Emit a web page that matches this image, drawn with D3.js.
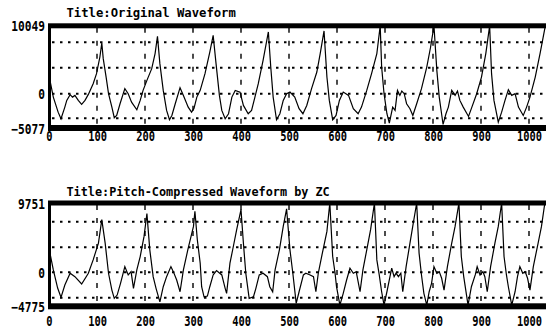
<!DOCTYPE html>
<html><head><meta charset="utf-8">
<script src="https://cdn.jsdelivr.net/npm/d3@7/dist/d3.min.js"></script>
<style>
html,body{margin:0;padding:0;background:#fff;}
svg{display:block;}
</style></head>
<body>
<svg id="chart" width="546" height="334"></svg>
<script>
// ---------- data ----------
const xTicks = [0,100,200,300,400,500,600,700,800,900,1000];

const origTitle = "Title:Original Waveform";
const origYTicks = [-5077, 0, 10049];
const origGrid = [-3650, 0, 3850, 7600];
const origX = [2,9,19,25,33,37,44,49,54,61,68,75,82,92,99,106,110,113,119,124,131,136,141,148,158,165,172,183,190,196,204,214,221,226,231,238,245,251,256,263,273,280,290,297,302,308,315,325,335,342,348,355,360,367,374,381,388,398,405,415,422,429,436,446,457,462,467,474,481,488,495,502,512,521,529,537,547,558,565,573,579,584,591,598,605,613,624,634,644,651,662,672,683,690,693,698,704,709,716,721,726,731,735,740,745,752,758,766,776,787,795,802,808,813,821,827,832,839,846,851,856,863,874,881,891,901,910,918,922,927,936,943,950,957,964,971,978,988,995,1002,1013,1023,1034];
const origY = [1970,-500,-2729,-3708,-1987,-994,-148,-504,-252,-994,-1587,-994,-104,1483,2966,5428,7504,5190,2462,0,-1987,-3559,-3218,-1483,742,0,-1246,-2373,-994,489,1972,3708,5932,8497,4449,489,-2477,-3856,-3218,-1483,890,-252,-1987,-2729,-2180,-504,489,2966,6169,8646,4449,-252,-2477,-3708,-2966,-504,489,237,-1735,-2966,-2477,-504,1483,4938,9135,3945,-504,-3856,-2966,-994,0,237,-504,-2225,-2966,-1735,742,3203,5932,9284,2462,-994,-3856,-3218,-994,237,-252,-2225,-2966,-1987,489,2966,5932,10049,3945,0,-2966,-4360,-1987,-2477,489,-252,386,0,-1483,-2225,-3218,-1483,742,3945,6911,10049,3455,-504,-4553,-2966,-1987,489,-252,386,-994,-1987,-3366,-1987,0,2462,5932,10049,2966,-994,-4212,-2729,-994,593,-252,0,-1987,-3218,-1987,-504,2462,5932,10049];

const compTitle = "Title:Pitch-Compressed Waveform by ZC";
const compYTicks = [-4775, 0, 9751];
const compGrid = [-3560, 0, 3520, 7120];
const compX = [2,9,18,25,33,44,54,68,82,92,103,110,117,124,131,136,142,149,158,165,171,176,183,190,198,204,210,217,223,231,238,245,254,259,266,273,280,290,301,304,309,315,318,323,330,335,342,349,360,367,370,377,384,391,400,405,410,417,426,431,438,446,455,460,466,471,480,488,495,502,508,515,521,530,535,544,551,556,561,568,579,585,591,596,599,606,613,620,627,634,640,644,648,654,662,670,678,683,688,693,698,704,709,714,719,723,728,733,737,744,752,759,766,771,776,781,787,792,797,802,808,813,818,823,830,839,846,854,859,864,873,880,888,892,898,904,908,913,920,929,936,943,948,953,957,964,971,976,981,987,992,997,1002,1009,1019,1026,1033];
const compY = [2700,340,-2206,-3521,-1782,-127,-608,-1640,-127,1753,4115,7409,4115,-127,-2489,-3662,-3196,-1541,806,-368,99,-2248,339,2220,5048,8258,3167,-608,-2248,-4143,-2022,-608,806,99,-1075,-2729,339,3408,6462,8583,4581,1287,-2022,-3436,-3337,-2022,-368,240,-368,-2248,-2955,1287,3634,5995,8823,4115,-127,-3662,-3436,-2248,-368,-127,-608,-2022,-2729,339,3167,6462,8922,3167,-127,-4369,-2729,-368,-127,-368,-608,-2729,-127,2220,5755,9751,2220,-127,-2022,-4619,-2955,-1075,580,-127,99,-1315,-2729,339,3167,5995,9751,1753,-368,-2729,-4619,-2729,-1075,580,-608,-127,-608,-127,-2729,806,4115,6943,9751,2700,-368,-2955,-4619,-2729,-1541,806,-127,99,-834,-2489,806,4115,6462,9751,2220,-608,-4619,-2022,-368,806,-368,99,-608,-2729,806,4115,6462,9751,2220,-368,-2022,-4619,-2729,-608,806,-127,99,-834,-2489,806,4115,6462,9751];

// ---------- drawing ----------
const svg = d3.select("#chart");
const x = d3.scaleLinear().domain([0, 1000]).range([49, 529]);
const frameLeft = 48, frameRight = 546;
const FONT = "DejaVu Sans Mono, monospace";

function panel(cfg) {
  const y = d3.scaleLinear().domain(cfg.yDomain).range(cfg.yRange);
  const g = svg.append("g");
  const yTop = y(cfg.yDomain[1]), yBot = y(cfg.yDomain[0]);

  // title
  g.append("g").attr("transform", `translate(66.5,${cfg.titleY}) scale(${cfg.titleSx},1)`)
    .append("text")
    .attr("x", 0).attr("y", 0)
    .attr("font-family", FONT)
    .attr("font-weight", "bold").attr("font-size", 12)
    .attr("fill", "#000").text(cfg.title);

  // horizontal dotted grid
  g.selectAll(".hg").data(cfg.grid).enter().append("line")
    .attr("x1", 52).attr("x2", frameRight)
    .attr("y1", d => y(d)).attr("y2", d => y(d))
    .attr("stroke", "#000").attr("stroke-width", 2)
    .attr("stroke-dasharray", "2.5,5.5");

  // vertical dashed grid
  g.selectAll(".vg").data(xTicks.filter(d => d > 0)).enter().append("line")
    .attr("x1", d => x(d)).attr("x2", d => x(d))
    .attr("y1", yTop + 2).attr("y2", yBot - 2)
    .attr("stroke", "#000").attr("stroke-width", 1.4)
    .attr("stroke-dasharray", "5,8");

  // waveform
  const pts = cfg.xs.map((d, i) => [d, cfg.ys[i]]);
  g.append("path").datum(pts)
    .attr("d", d3.line().x(d => x(d[0])).y(d => y(d[1])))
    .attr("fill", "none").attr("stroke", "#000").attr("stroke-width", 1.2)
    .attr("stroke-linejoin", "miter");

  // frame: thick bars + left border
  g.append("rect").attr("x", frameLeft).attr("y", yTop - 2.5)
    .attr("width", frameRight - frameLeft).attr("height", 5).attr("fill", "#000");
  g.append("rect").attr("x", frameLeft).attr("y", yBot - 3)
    .attr("width", frameRight - frameLeft).attr("height", 6).attr("fill", "#000");
  g.append("rect").attr("x", frameLeft).attr("y", yTop)
    .attr("width", 3).attr("height", yBot - yTop).attr("fill", "#000");

  // y axis labels
  const ya = g.append("g").attr("transform", "translate(45,0)")
    .call(d3.axisLeft(y).tickValues(cfg.yTicks).tickSize(0).tickPadding(0).tickFormat(d3.format("d")));
  ya.select(".domain").remove();
  ya.selectAll("text")
    .attr("x", 0).attr("dy", "0.36em")
    .attr("font-family", FONT)
    .attr("font-weight", "bold").attr("font-size", 14)
    .attr("fill", "#000")
    .attr("transform", "scale(0.8,1)");

  // x axis labels
  const xa = g.append("g").attr("transform", `translate(0,${cfg.xLabelY})`)
    .call(d3.axisBottom(x).tickValues(xTicks).tickSize(0).tickPadding(0).tickFormat(d3.format("d")));
  xa.select(".domain").remove();
  xa.selectAll("text")
    .attr("y", 0).attr("dy", "0.36em")
    .attr("font-family", FONT)
    .attr("font-weight", "bold").attr("font-size", 13.5)
    .attr("fill", "#000")
    .attr("transform", "scale(0.77,1)");
}

panel({
  title: origTitle, titleY: 16.7, titleSx: 1.02,
  yDomain: [-5077, 10049], yRange: [128, 25.8],
  grid: origGrid, yTicks: origYTicks,
  xs: origX, ys: origY, xLabelY: 136.5
});
panel({
  title: compTitle, titleY: 195.7, titleSx: 0.985,
  yDomain: [-4775, 9751], yRange: [306.3, 203],
  grid: compGrid, yTicks: compYTicks,
  xs: compX, ys: compY, xLabelY: 321.5
});
</script>
</body></html>
